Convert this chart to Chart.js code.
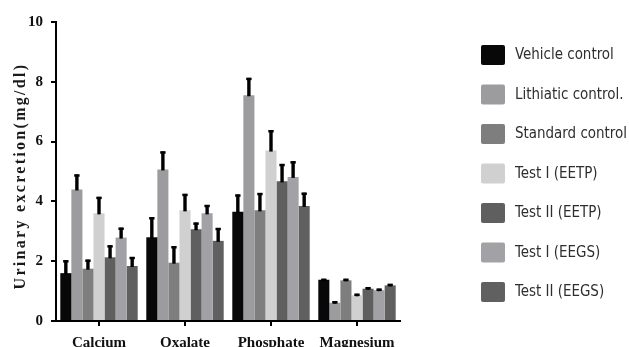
<!DOCTYPE html>
<html>
<head>
<meta charset="utf-8">
<script src="https://cdn.jsdelivr.net/npm/chart.js@4"></script>
<style>
  html, body { margin: 0; padding: 0; background: #fff; }
  #wrap { width: 629px; height: 347px; }
</style>
</head>
<body>
<div id="wrap"><canvas id="c" width="629" height="347"></canvas></div>
<script>
// Urinary excretion (mg/dl) per group, mean with upward SEM bars
const categories = ['Calcium', 'Oxalate', 'Phosphate', 'Magnesium'];
const groupLabels = ['Vehicle control', 'Lithiatic control.', 'Standard control',
  'Test I (EETP)', 'Test II (EETP)', 'Test I (EEGS)', 'Test II (EEGS)'];

const vehicleControl   = [1.60, 2.80, 3.65, 1.38];
const lithiaticControl = [4.40, 5.07, 7.55, 0.61];
const standardControl  = [1.75, 1.95, 3.70, 1.36];
const testIEETP        = [3.60, 3.70, 5.70, 0.86];
const testIIEETP       = [2.13, 3.07, 4.67, 1.08];
const testIEEGS        = [2.79, 3.60, 4.82, 1.03];
const testIIEEGS       = [1.84, 2.68, 3.85, 1.19];

const vehicleErr   = [0.43, 0.67, 0.58, 0.03];
const lithiaticErr = [0.50, 0.60, 0.58, 0.05];
const standardErr  = [0.30, 0.55, 0.58, 0.05];
const testIEETPErr = [0.55, 0.55, 0.68, 0.05];
const testIIEETPErr= [0.40, 0.22, 0.58, 0.05];
const testIEEGSErr = [0.33, 0.28, 0.52, 0.05];
const testIIEEGSErr= [0.30, 0.43, 0.44, 0.05];

const yTicks = [0, 2, 4, 6, 8, 10];

const seriesValues = [vehicleControl, lithiaticControl, standardControl,
  testIEETP, testIIEETP, testIEEGS, testIIEEGS];
const seriesErrors = [vehicleErr, lithiaticErr, standardErr,
  testIEETPErr, testIIEETPErr, testIEEGSErr, testIIEEGSErr];
const fills = ['#080808', '#9c9c9f', '#7e7e7e', '#d0d0d0', '#5f5f5f', '#a2a2a6', '#606060'];

const serif = "'Liberation Serif', 'Times New Roman', serif";
const legendFont = "'DejaVu Sans Condensed', 'Liberation Sans Narrow', sans-serif";

// upward error bars with a small cap, placed from the bar elements
const errorBars = {
  id: 'errorBars',
  afterDatasetsDraw(chart) {
    const ctx = chart.ctx;
    const y = chart.scales.y;
    chart.data.datasets.forEach((ds, di) => {
      const meta = chart.getDatasetMeta(di);
      meta.data.forEach((bar, i) => {
        const top = y.getPixelForValue(ds.data[i] + ds.errors[i]);
        ctx.save();
        ctx.strokeStyle = '#000';
        ctx.lineCap = 'butt';
        ctx.lineWidth = 3.4;
        ctx.beginPath();
        ctx.moveTo(bar.x, bar.y + 1);
        ctx.lineTo(bar.x, top);
        ctx.stroke();
        ctx.lineWidth = 2.5;
        ctx.beginPath();
        ctx.moveTo(bar.x - 2.7, top + 1);
        ctx.lineTo(bar.x + 2.7, top + 1);
        ctx.stroke();
        ctx.restore();
      });
    });
  }
};

// rotated, letter-spaced y axis title
const yTitle = {
  id: 'yTitle',
  afterDraw(chart) {
    const ctx = chart.ctx;
    ctx.save();
    ctx.translate(21, 176);
    ctx.rotate(-Math.PI / 2);
    ctx.font = 'bold 16px ' + serif;
    if ('letterSpacing' in ctx) ctx.letterSpacing = '2.3px';
    ctx.fillStyle = '#1a1a1a';
    ctx.textAlign = 'center';
    ctx.textBaseline = 'middle';
    ctx.fillText('Urinary excretion(mg/dl)', 0, 0);
    ctx.restore();
  }
};

// legend column to the right of the plot, text set in a narrowed face
const sideLegend = {
  id: 'sideLegend',
  afterDraw(chart) {
    const ctx = chart.ctx;
    ctx.save();
    ctx.font = '16px ' + legendFont;
    const sx = Math.min(1, 112 / ctx.measureText('Standard control').width);
    chart.data.datasets.forEach((ds, i) => {
      const cy = 55 + i * 39.5;
      ctx.fillStyle = ds.backgroundColor;
      ctx.beginPath();
      if (ctx.roundRect) ctx.roundRect(481, cy - 10, 24, 20, 2);
      else ctx.rect(481, cy - 10, 24, 20);
      ctx.fill();
      ctx.save();
      ctx.translate(515, cy);
      ctx.scale(sx, 1);
      ctx.fillStyle = '#2e2e2e';
      ctx.textAlign = 'left';
      ctx.textBaseline = 'middle';
      ctx.fillText(ds.label, 0, 0);
      ctx.restore();
    });
    ctx.restore();
  }
};

new Chart(document.getElementById('c'), {
  type: 'bar',
  data: {
    labels: categories,
    datasets: groupLabels.map((label, i) => ({
      label,
      data: seriesValues[i],
      errors: seriesErrors[i],
      backgroundColor: fills[i],
      borderWidth: 0,
      categoryPercentage: 0.9,
      barPercentage: 1.0
    }))
  },
  options: {
    responsive: false,
    animation: false,
    devicePixelRatio: 1,
    layout: { padding: { top: 22, right: 229, left: 0, bottom: 0 } },
    plugins: {
      legend: { display: false },
      tooltip: { enabled: false }
    },
    scales: {
      x: {
        offset: true,
        grid: { offset: false, drawOnChartArea: false, drawTicks: true, tickLength: 5, color: '#000', lineWidth: 2 },
        border: { display: true, color: '#000', width: 2 },
        ticks: { color: '#111', padding: 8, font: { family: serif, size: 15, weight: 'bold' } },
        afterFit(scale) { scale.height = 26; }
      },
      y: {
        min: 0,
        max: 10,
        afterBuildTicks(scale) { scale.ticks = yTicks.map(v => ({ value: v })); },
        grid: { drawOnChartArea: false, drawTicks: true, tickLength: 5, color: '#000', lineWidth: 2 },
        border: { display: true, color: '#000', width: 2 },
        ticks: { color: '#111', padding: 8, font: { family: serif, size: 15, weight: 'bold' } },
        afterFit(scale) { scale.width = 56; }
      }
    }
  },
  plugins: [errorBars, yTitle, sideLegend]
});
</script>
</body>
</html>
